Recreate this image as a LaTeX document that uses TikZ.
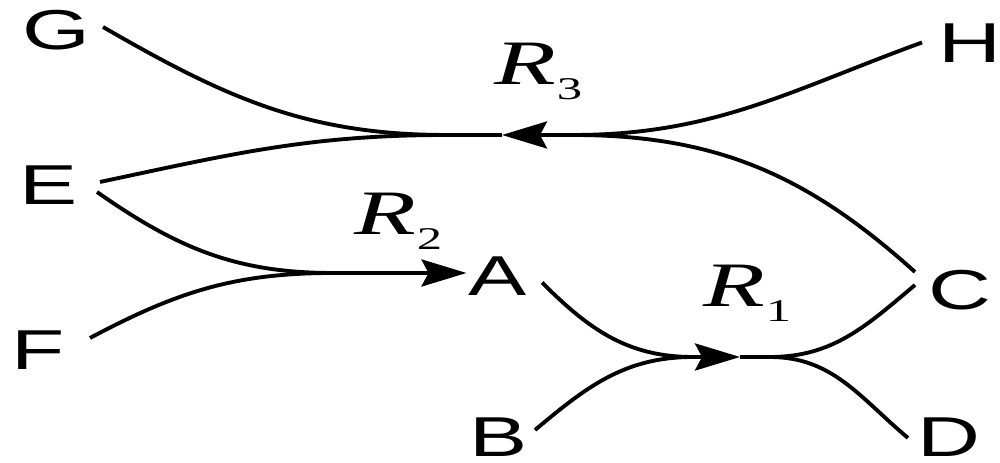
\documentclass[tikz,border=0pt]{standalone}
\usepackage{fontspec}
\newfontfamily\labfont[FakeStretch=1.55]{Liberation Sans}
\newfontfamily\rfont[FakeStretch=1.6]{Liberation Serif}
\usetikzlibrary{arrows.meta}
\newcommand{\rlab}[1]{{\rfont\itshape R}\raisebox{-4pt}{\rfont\fontsize{9}{9}\selectfont #1}}

\begin{document}
\begin{tikzpicture}[line width=1.1pt,
    lbl/.style={font=\labfont\fontsize{16}{18}\selectfont, inner sep=0pt},
    rxn/.style={font=\fontsize{18}{20}\selectfont, anchor=base west, inner sep=0pt},
    tip/.style={-{Stealth[length=4.5mm,width=2.7mm,inset=0.7mm]}}]
    \useasboundingbox (0,0) rectangle (10,4.63);
    % species
    \node[lbl] (G) at (0.56,4.33) {G};
    \node[lbl] (H) at (9.70,4.20) {H};
    \node[lbl] (E) at (0.49,2.78) {E};
    \node[lbl] (F) at (0.385,1.13) {F};
    \node[lbl] (A) at (4.975,1.865) {A};
    \node[lbl] (C) at (9.60,1.73) {C};
    \node[lbl] (B) at (4.99,0.255) {B};
    \node[lbl] (D) at (9.485,0.255) {D};
    % reactions
    \node[rxn] (R3) at (4.93,3.78) {\rlab{3}};
    \node[rxn] (R2) at (3.53,2.28) {\rlab{2}};
    \node[rxn] (R1) at (7.02,1.56) {\rlab{1}};
    \coordinate (j3w) at (4.47,3.28);
    \coordinate (t3) at (5.02,3.28);
    \coordinate (j3e) at (5.73,3.28);
    \coordinate (j2w) at (3.33,1.90);
    \coordinate (j1w) at (6.93,1.06);
    \coordinate (t1) at (7.40,1.06);
    \coordinate (j1e) at (7.70,1.06);
    % R3: H + C -> G + E
    \draw ([shift={(-0.48,0.005)}]H.center) to[out=200,in=0] (j3e);
    \draw ([shift={(-0.45,0.18)}]C.center) to[out=138,in=0] (j3e);
    \draw[tip] (j3e) -- (t3);
    \draw (t3) -- (j3w);
    \draw ([shift={(0.47,0.03)}]G.center) to[out=-30,in=180] (j3w);
    \draw ([shift={(0.51,0.03)}]E.center) to[out=12,in=180] (j3w);
    % R2: E + F -> A
    \draw ([shift={(0.48,-0.07)}]E.center) to[out=-35,in=180] (j2w);
    \draw ([shift={(0.515,0.12)}]F.center) to[out=28,in=180] (j2w);
    \draw[tip] (j2w) -- (j2w -| A.west);
    % R1: A + B -> C + D
    \draw ([shift={(0.445,-0.06)}]A.center) to[out=-45,in=180] (j1w);
    \draw ([shift={(0.36,0.075)}]B.center) to[out=40,in=180] (j1w);
    \draw[tip] (j1w) -- (t1);
    \draw (t1) -- (j1e);
    \draw (j1e) to[out=0,in=-140] ([shift={(-0.45,0.05)}]C.center);
    \draw (j1e) to[out=0,in=140] ([shift={(-0.405,-0.005)}]D.center);
\end{tikzpicture}
\end{document}
